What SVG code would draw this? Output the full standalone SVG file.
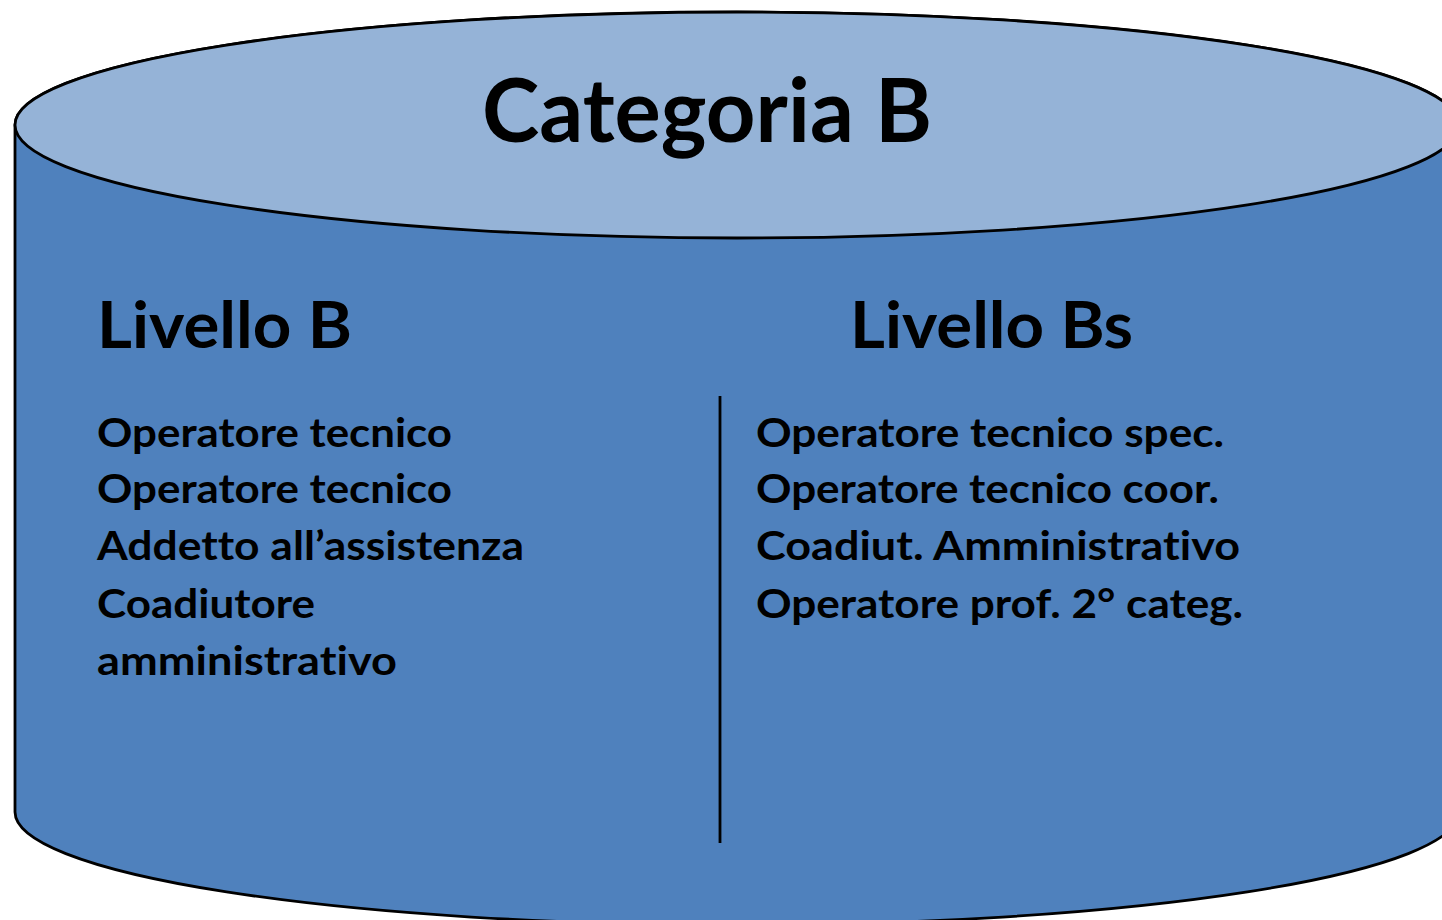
<svg xmlns="http://www.w3.org/2000/svg" width="1442" height="920" viewBox="0 0 1442 920">
  <style>
    .body { fill: #4F81BD; stroke: #000; stroke-width: 2.8; }
    .top { fill: #95B3D7; stroke: #000; stroke-width: 2.8; }
    .t { font-family: Lato, "Open Sans", "Liberation Sans", sans-serif; font-weight: bold; fill: #000; font-variant-ligatures: none; }
    .title { font-size: 88px; }
    .head { font-size: 65px; }
    .item { font-size: 41px; }
  </style>
  <g id="cylinder">
    <path class="body" d="M15,125 V812 A722,113 0 0 0 1459,812 V125 A722,113 0 0 0 15,125 Z"/>
    <ellipse class="top" cx="737" cy="125" rx="722" ry="113"/>
  </g>
  <g id="title">
    <text class="t title" x="482" y="142" textLength="450" lengthAdjust="spacingAndGlyphs">Categoria B</text>
  </g>
  <g id="divider">
    <line x1="720" y1="396" x2="720" y2="843" stroke="#000" stroke-width="2.8"/>
  </g>
  <g id="livello-b">
    <text class="t head" x="97" y="348" textLength="255" lengthAdjust="spacingAndGlyphs">Livello B</text>
    <text class="t item" x="97" y="447" textLength="355" lengthAdjust="spacingAndGlyphs">Operatore tecnico</text>
    <text class="t item" x="97" y="503" textLength="355" lengthAdjust="spacingAndGlyphs">Operatore tecnico</text>
    <text class="t item" x="97" y="560" textLength="427" lengthAdjust="spacingAndGlyphs">Addetto all’assistenza</text>
    <text class="t item" x="97" y="618" textLength="218" lengthAdjust="spacingAndGlyphs">Coadiutore</text>
    <text class="t item" x="97" y="675" textLength="300" lengthAdjust="spacingAndGlyphs">amministrativo</text>
  </g>
  <g id="livello-bs">
    <text class="t head" x="850" y="348" textLength="283" lengthAdjust="spacingAndGlyphs">Livello Bs</text>
    <text class="t item" x="756" y="447" textLength="468" lengthAdjust="spacingAndGlyphs">Operatore tecnico spec.</text>
    <text class="t item" x="756" y="503" textLength="463" lengthAdjust="spacingAndGlyphs">Operatore tecnico coor.</text>
    <text class="t item" x="756" y="560" textLength="484" lengthAdjust="spacingAndGlyphs">Coadiut. Amministrativo</text>
    <text class="t item" x="756" y="618" textLength="487" lengthAdjust="spacingAndGlyphs">Operatore prof. 2° categ.</text>
  </g>
</svg>
